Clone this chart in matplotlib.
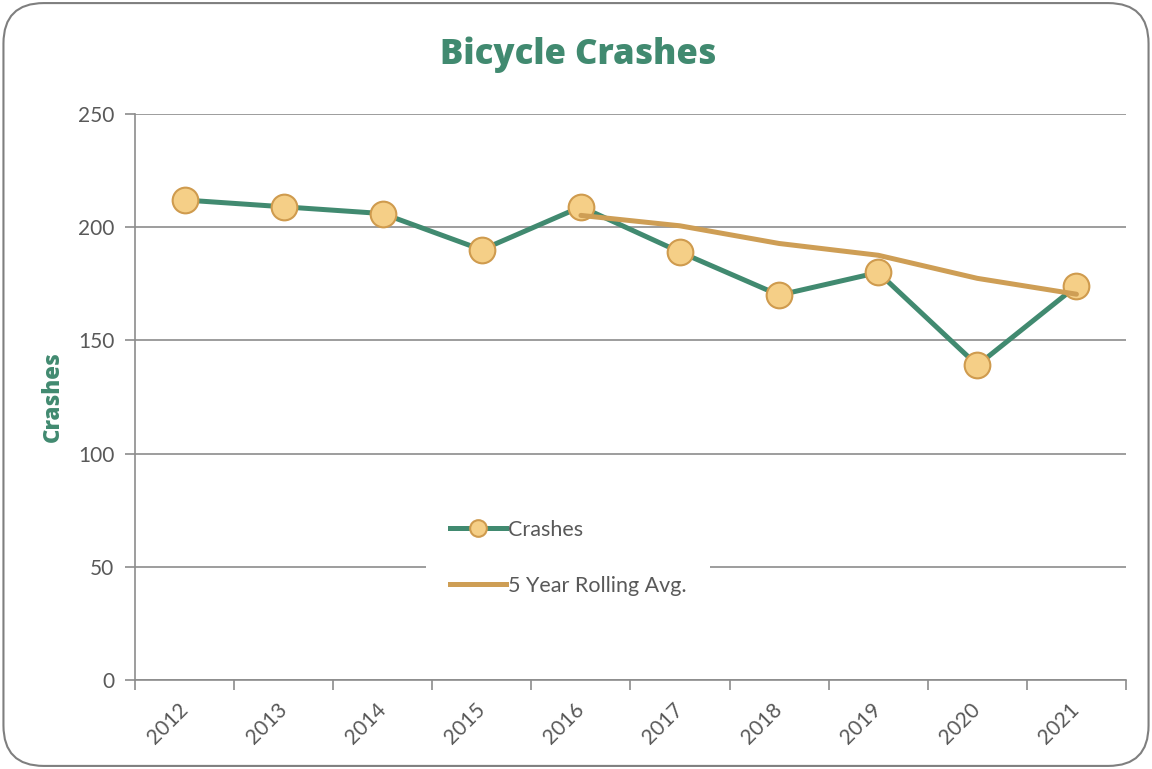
import matplotlib
matplotlib.use("Agg")
import matplotlib.pyplot as plt
from matplotlib.patches import FancyBboxPatch
from matplotlib.lines import Line2D

years = ["2012", "2013", "2014", "2015", "2016", "2017", "2018", "2019", "2020", "2021"]
crashes = [212, 209, 206, 190, 209, 189, 170, 180, 139, 174]
rolling_years = ["2016", "2017", "2018", "2019", "2020", "2021"]
rolling_avg = [205.2, 200.6, 192.8, 187.6, 177.4, 170.4]

GREEN = "#418A70"
GOLD = "#CE9E55"
MARKER_FILL = "#F5CF87"
MARKER_EDGE = "#CF9B4E"
GRID = "#8C8C8C"
TEXT = "#595959"

plt.rcParams["font.family"] = ["Lato", "DejaVu Sans"]

fig = plt.figure(figsize=(11.52, 7.69), dpi=100)
ax = fig.add_axes([0.1172, 0.1157, 0.8602, 0.7361])

x = list(range(len(years)))
xr = [years.index(y) for y in rolling_years]

ax.plot(x, crashes, color=GREEN, lw=3.6, marker="o", ms=18.5,
        mfc=MARKER_FILL, mec=MARKER_EDGE, mew=1.5, zorder=3,
        solid_capstyle="round", solid_joinstyle="round")
ax.plot(xr, rolling_avg, color=GOLD, lw=3.6, zorder=4,
        solid_capstyle="round", solid_joinstyle="round")

ax.set_xlim(-0.5, len(years) - 0.5)
ax.set_ylim(0, 250)
ax.set_yticks([0, 50, 100, 150, 200, 250])
ax.yaxis.grid(True, color=GRID, lw=1.2)
ax.set_axisbelow(True)

# category axis: tick marks between categories, labels at centers
ax.set_xticks([i - 0.5 for i in range(len(years) + 1)])
ax.set_xticklabels([])
ax.set_xticks(x, minor=True)
ax.set_xticklabels(years, minor=True, rotation=45, fontsize=15, color=TEXT,
                   ha="right", va="center", rotation_mode="anchor")
ax.tick_params(axis="x", which="minor", length=0, pad=19)
ax.tick_params(axis="x", which="major", length=7, width=1.2, color=GRID,
               direction="out")
ax.tick_params(axis="y", length=7, width=1.2, color=GRID, labelsize=15,
               labelcolor=TEXT, pad=8)

for side in ("top", "right"):
    ax.spines[side].set_visible(False)
for side in ("left", "bottom"):
    ax.spines[side].set_color(GRID)
    ax.spines[side].set_linewidth(1.2)

heavy = ["Open Sans", "Lato", "DejaVu Sans"]
ax.set_ylabel("Crashes", fontsize=16, fontweight=800, color=GREEN,
              family=heavy)
ax.yaxis.set_label_coords(-0.071, 0.5)

fig.text(0.502, 0.929, "Bicycle Crashes", ha="center", va="center",
         fontsize=25, fontweight=800, color=GREEN, family=heavy)

handles = [
    Line2D([], [], color=GREEN, lw=3.6, marker="o", ms=12,
           mfc=MARKER_FILL, mec=MARKER_EDGE, mew=1.5),
    Line2D([], [], color=GOLD, lw=3.6),
]
leg = ax.legend(handles, ["Crashes", "5 Year Rolling Avg."],
                loc="center", bbox_to_anchor=(0.437, 0.216),
                frameon=True, fontsize=15.5, labelcolor=TEXT,
                handlelength=2.6, handletextpad=0.1, labelspacing=1.65,
                borderpad=1.1, borderaxespad=0)
leg.get_frame().set_edgecolor("none")
leg.get_frame().set_facecolor("white")
leg.get_frame().set_alpha(1)

border = FancyBboxPatch((0.003, 0.004), 0.994, 0.992,
                        boxstyle="round,pad=0,rounding_size=0.035",
                        transform=fig.transFigure, fill=False,
                        ec="#7F7F7F", lw=1.5, mutation_aspect=1.5)
fig.patches.append(border)

fig.savefig("out.png", dpi=100, facecolor="white")
